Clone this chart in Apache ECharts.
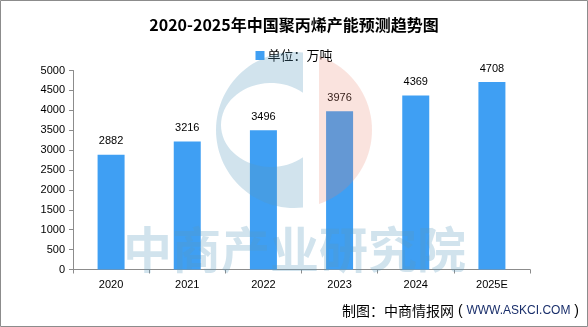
<!DOCTYPE html>
<html>
<head>
<meta charset="utf-8">
<script src="https://cdn.jsdelivr.net/npm/echarts@6/dist/echarts.min.js"></script>
<style>
  html, body { margin: 0; padding: 0; background: #fff; }
  #chart { width: 588px; height: 327px; }
</style>
</head>
<body>
<div id="chart"></div>
<script>
// Production capacity of polypropylene in China (10k tonnes)
const years = ['2020', '2021', '2022', '2023', '2024', '2025E'];
const capacity = [2882, 3216, 3496, 3976, 4369, 4708];
const yTicks = { min: 0, max: 5000, interval: 500 };

const chart = echarts.init(document.getElementById('chart'));

const axisGray = '#8c8c8c';
const textFont = '"Liberation Sans", Arial, sans-serif';
const cjkFont = '"Noto Sans CJK SC", "Liberation Sans", sans-serif';

// points along an elliptical arc (angles in degrees, screen coords)
function arcPoints(cx, cy, rx, ry, a0, a1, n) {
  const pts = [];
  for (let i = 0; i <= n; i++) {
    const a = (a0 + (a1 - a0) * i / n) * Math.PI / 180;
    pts.push([cx + rx * Math.cos(a), cy + ry * Math.sin(a)]);
  }
  return pts;
}

// brand mark: a "C" on the left, a segment on the right
const markCx = 294, markCy = 130, markR = 78;
const cutX = 303, holeCx = 271, holeCy = 125, holeRx = 50, holeRy = 42;
const outerA = Math.acos((cutX - markCx) / markR) * 180 / Math.PI;
const holeA = Math.acos((cutX - holeCx) / holeRx) * 180 / Math.PI;
const cShape = []
  .concat(arcPoints(markCx, markCy, markR, markR, -outerA, -360 + outerA, 60))
  .concat(arcPoints(holeCx, holeCy, holeRx, holeRy, holeA, 360 - holeA, 50));
const rightA = Math.acos((319 - markCx) / markR) * 180 / Math.PI;
const rightShape = arcPoints(markCx, markCy, markR, markR, -rightA, rightA, 40);

chart.setOption({
  backgroundColor: '#ffffff',
  animation: false,
  title: {
    text: '2020-2025年中国聚丙烯产能预测趋势图',
    left: 'center',
    top: 12,
    textStyle: { fontFamily: cjkFont, fontSize: 16, fontWeight: 'bold', color: '#000' }
  },
  legend: {
    top: 44,
    left: 'center',
    itemWidth: 9,
    itemHeight: 9,
    itemGap: 4,
    icon: 'rect',
    textStyle: { fontFamily: cjkFont, fontSize: 13, color: '#000', padding: [0, 0, 0, -2] },
    data: ['单位：万吨']
  },
  grid: { left: 73, right: 58, top: 70.5, bottom: 57.5, containLabel: false },
  xAxis: {
    type: 'category',
    data: years,
    axisLine: { lineStyle: { color: axisGray, width: 1 } },
    axisTick: { show: true, alignWithLabel: false, length: 4, lineStyle: { color: axisGray } },
    axisLabel: { fontFamily: textFont, fontSize: 11, color: '#000', margin: 10 }
  },
  yAxis: {
    type: 'value',
    min: yTicks.min,
    max: yTicks.max,
    interval: yTicks.interval,
    splitLine: { show: false },
    axisLine: { show: true, lineStyle: { color: axisGray, width: 1 } },
    axisTick: { show: true, length: 4, lineStyle: { color: axisGray } },
    axisLabel: {
      fontFamily: textFont, fontSize: 11, color: '#000', margin: 8,
      formatter: v => String(v)
    }
  },
  series: [{
    name: '单位：万吨',
    type: 'bar',
    data: capacity,
    barWidth: 27,
    itemStyle: { color: '#3f9ff3' },
    label: {
      show: true,
      position: 'top',
      distance: 8,
      fontFamily: textFont,
      fontSize: 11,
      color: '#000'
    }
  }],
  graphic: [
    {
      type: 'polygon',
      z: 100,
      silent: true,
      shape: { points: cShape },
      style: { fill: 'rgba(90,154,192,0.28)' }
    },
    {
      type: 'polygon',
      z: 100,
      silent: true,
      shape: { points: rightShape },
      style: { fill: 'rgba(232,128,106,0.22)' }
    },
    {
      type: 'text',
      z: 100,
      silent: true,
      left: 123,
      top: 225,
      style: {
        text: '中商产业研究院',
        font: 'bold 49px "Noto Sans CJK SC", sans-serif',
        fill: 'rgba(90,154,192,0.28)'
      }
    },
    // source line
    {
      type: 'text',
      right: 9,
      top: 304,
      style: {
        text: '{a|制图：中商情报网}{p| ( }{b|WWW.ASKCI.COM}{p| )}',
        rich: {
          a: { fontFamily: cjkFont, fontSize: 14, fill: '#000' },
          p: { fontFamily: textFont, fontSize: 14, fill: '#000' },
          b: { fontFamily: textFont, fontSize: 12, fill: '#1a2f6b' }
        }
      }
    },
    // outer frame
    {
      type: 'rect',
      z: 101,
      silent: true,
      shape: { x: 0.5, y: 0.5, width: 587, height: 326 },
      style: { fill: 'none', stroke: '#8c8c8c', lineWidth: 1 }
    }
  ]
});
</script>
</body>
</html>
